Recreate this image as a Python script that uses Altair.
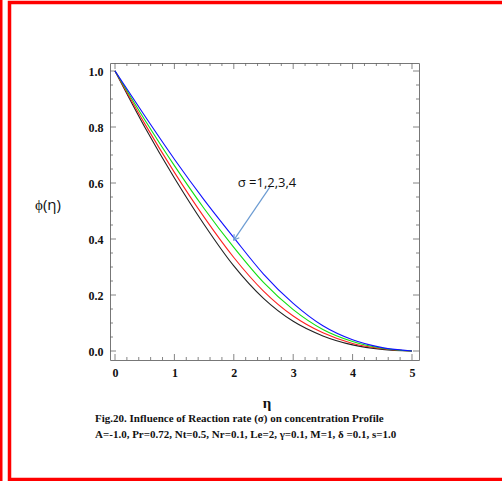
import altair as alt
import pandas as pd

# ---- data ----
eta = [0, 0.5, 1, 1.5, 2, 2.5, 3, 3.5, 4, 4.5, 5]
phi_sigma1 = [1.0, 0.800, 0.618, 0.452, 0.304, 0.188, 0.106, 0.054, 0.022, 0.006, 0.0]
phi_sigma2 = [1.0, 0.812, 0.638, 0.478, 0.334, 0.214, 0.125, 0.065, 0.027, 0.008, 0.0]
phi_sigma3 = [1.0, 0.826, 0.662, 0.509, 0.370, 0.245, 0.148, 0.077, 0.034, 0.010, 0.0]
phi_sigma4 = [1.0, 0.840, 0.685, 0.540, 0.405, 0.275, 0.170, 0.090, 0.040, 0.012, 0.0]
series_names = ["σ=1", "σ=2", "σ=3", "σ=4"]
series_colors = ["#222222", "#ff2020", "#10e010", "#1010ff"]

x_major = [0, 1, 2, 3, 4, 5]
x_minor = [i * 0.2 for i in range(26) if i % 5 != 0]
y_major = [0.0, 0.2, 0.4, 0.6, 0.8, 1.0]
y_minor = [i * 0.05 for i in range(21) if i % 4 != 0]

arrow_eta = [2.61, 2.0]
arrow_phi = [0.586, 0.396]

caption1 = "Fig.20. Influence  of  Reaction rate (σ) on concentration Profile"
caption2 = "A=-1.0, Pr=0.72, Nt=0.5, Nr=0.1, Le=2, γ=0.1, M=1, δ =0.1, s=1.0"

# ---- layout ----
W, H = 309, 297
PL, PT = 110, 63
XDOM = [-0.0842, 5.118]
YDOM = [-0.0321, 1.0286]

rows = []
for name, vals in zip(series_names, [phi_sigma1, phi_sigma2, phi_sigma3, phi_sigma4]):
    for e, p in zip(eta, vals):
        rows.append({"eta": e, "phi": p, "series": name})
df = pd.DataFrame(rows)

xs = alt.Scale(domain=XDOM, nice=False, zero=False)
ys = alt.Scale(domain=YDOM, nice=False, zero=False)

base_axes = alt.Chart(pd.DataFrame({"eta": [0], "phi": [0]})).mark_point(opacity=0).encode(
    x=alt.X("eta:Q", scale=xs, title=None,
            axis=alt.Axis(values=x_major, format="d", ticks=False, domain=False, grid=False,
                          labelPadding=7)),
    y=alt.Y("phi:Q", scale=ys, title=None,
            axis=alt.Axis(values=y_major, format=".1f", ticks=False, domain=False, grid=False,
                          labelPadding=7)),
)

lines = alt.Chart(df).mark_line(strokeWidth=1.1, interpolate="monotone").encode(
    x=alt.X("eta:Q", scale=xs),
    y=alt.Y("phi:Q", scale=ys),
    color=alt.Color("series:N", scale=alt.Scale(domain=series_names, range=series_colors), legend=None),
    order=alt.Order("eta:Q"),
)

tick_color = "#666"
def xticks(vals, length):
    d = pd.DataFrame({"eta": vals})
    b = alt.Chart(d).mark_rule(color=tick_color, strokeWidth=0.8)
    bottom = b.encode(x=alt.X("eta:Q", scale=xs), y=alt.value(H), y2=alt.value(H - length))
    top = b.encode(x=alt.X("eta:Q", scale=xs), y=alt.value(0), y2=alt.value(length))
    return bottom + top

def yticks(vals, length):
    d = pd.DataFrame({"phi": vals})
    b = alt.Chart(d).mark_rule(color=tick_color, strokeWidth=0.8)
    left = b.encode(y=alt.Y("phi:Q", scale=ys), x=alt.value(0), x2=alt.value(length))
    right = b.encode(y=alt.Y("phi:Q", scale=ys), x=alt.value(W), x2=alt.value(W - length))
    return left + right

ticks = xticks(x_major, 6) + xticks(x_minor, 3) + yticks(y_major, 6) + yticks(y_minor, 3)

adf = pd.DataFrame({"eta": arrow_eta, "phi": arrow_phi, "o": [0, 1]})
arrow_line = alt.Chart(adf).mark_line(color="#6b9bd2", strokeWidth=1.2).encode(
    x=alt.X("eta:Q", scale=xs), y=alt.Y("phi:Q", scale=ys), order="o:Q")
arrow_head = alt.Chart(adf.iloc[[1]]).mark_point(
    shape="M -1 -1.6 L 0 0 L 1 -1.6", filled=False, color="#6b9bd2", strokeWidth=1.2,
    size=40, angle=35, opacity=1).encode(
    x=alt.X("eta:Q", scale=xs), y=alt.Y("phi:Q", scale=ys))

def txt(t, x, y, **kw):
    return alt.Chart(pd.DataFrame({"t": [t]})).mark_text(**kw).encode(
        text="t:N", x=alt.value(x - PL), y=alt.value(y - PT))

sigma_label = txt("σ =1,2,3,4", 267, 183, font="Open Sans", fontSize=13, color="#111",
                  align="center", baseline="middle")
ytitle = txt("ϕ(η)", 48, 205, font="Open Sans", fontSize=15, color="#111", align="center", baseline="middle")
xtitle = txt("η", 267, 403, font="Liberation Serif", fontSize=15, fontWeight="bold", color="#111",
             align="center", baseline="middle")
cap1 = txt(caption1, 95, 419, font="Liberation Serif", fontSize=11, fontWeight="bold", color="#111",
           align="left", baseline="middle")
cap2 = txt(caption2, 95, 435, font="Liberation Serif", fontSize=11, fontWeight="bold", color="#111",
           align="left", baseline="middle")

# red page border
border = alt.Chart(pd.DataFrame({"a": [0]})).mark_rect(fill=None, stroke="#ff0000", strokeWidth=3.5).encode(
    x=alt.value(9.5 - PL), x2=alt.value(520 - PL), y=alt.value(2.5 - PT), y2=alt.value(479.5 - PT))
leftbar = alt.Chart(pd.DataFrame({"a": [0]})).mark_rule(color="#ff0000", strokeWidth=3).encode(
    x=alt.value(1 - PL), y=alt.value(-PT), y2=alt.value(481 - PT))

chart = alt.layer(
    base_axes, ticks, lines, arrow_line, arrow_head, sigma_label,
    ytitle, xtitle, cap1, cap2, border, leftbar
).properties(
    width=W, height=H,
    autosize=alt.AutoSizeParams(type="none"),
    padding={"left": PL, "top": PT, "right": 502 - PL - W, "bottom": 481 - PT - H},
    background="white",
).configure_view(stroke="#777", strokeWidth=1).configure_axis(
    labelFont="Liberation Serif", labelFontWeight="bold", labelFontSize=12, labelColor="#111"
)

chart.save("out.html", embed_options={"renderer": "svg", "actions": False})
